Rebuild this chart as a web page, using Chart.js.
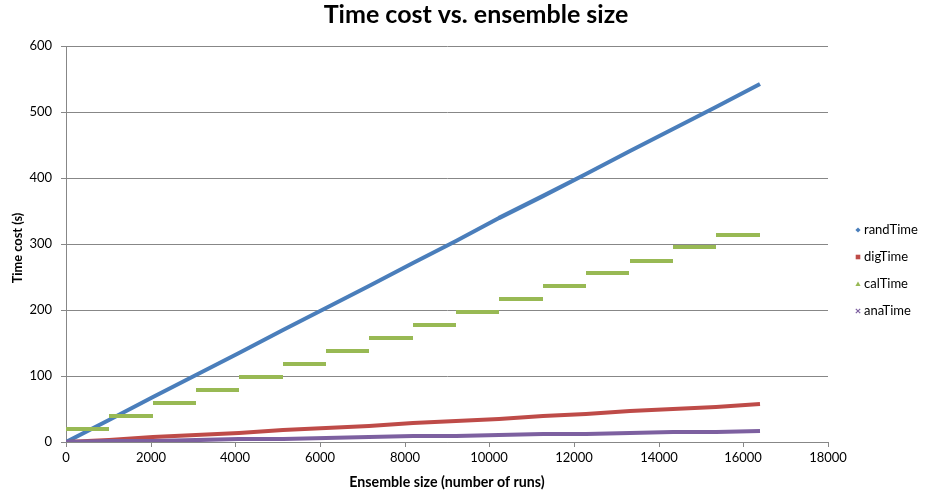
<!DOCTYPE html>
<html>
<head>
<meta charset="utf-8">
<script src="https://cdn.jsdelivr.net/npm/chart.js@4/dist/chart.umd.min.js"></script>
<style>
  html, body { margin: 0; padding: 0; background: #ffffff; }
  #wrap { width: 947px; height: 495px; }
</style>
</head>
<body>
<div id="wrap"><canvas id="c" width="947" height="495"></canvas></div>
<script>
// Ensemble sizes (number of runs) sampled every 1024 runs
const ensembleSizes = [0, 1024, 2048, 3072, 4096, 5120, 6144, 7168, 8192,
  9216, 10240, 11264, 12288, 13312, 14336, 15360, 16384];

// Time cost in seconds for each ensemble size
const randTime = [0, 33.9, 67.8, 101.6, 135.5, 169.4, 203.3, 237.1, 271, 304.9, 338.8, 372.6, 406.5, 440.4, 474.3, 508.1, 542];
const digTime  = [0, 3.6, 7.1, 10.7, 14.2, 17.8, 21.4, 24.9, 28.5, 32, 35.6, 39.2, 42.7, 46.3, 49.8, 53.4, 57];
const anaTime  = [0, 1.1, 2.1, 3.2, 4.3, 5.3, 6.4, 7.4, 8.5, 9.6, 10.6, 11.7, 12.8, 13.8, 14.9, 15.9, 17];

// calTime grows in blocks of 1024 runs: one level per block
const calBlockStart = [0, 1024, 2048, 3072, 4096, 5120, 6144, 7168, 8192,
  9216, 10240, 11264, 12288, 13312, 14336, 15360];
const calBlockEnd = [1023, 2047, 3071, 4095, 5119, 6143, 7167, 8191, 9215,
  10239, 11263, 12287, 13311, 14335, 15359, 16383];
const calTime = [20, 39, 59, 79, 98, 118, 138, 157, 177, 197, 216, 236, 256, 275, 295, 314];

const xTicks = [0, 2000, 4000, 6000, 8000, 10000, 12000, 14000, 16000, 18000];
const yTicks = [0, 100, 200, 300, 400, 500, 600];

const seriesNames = ['randTime', 'digTime', 'calTime', 'anaTime'];
const seriesColors = ['#4A7EBB', '#BE4B48', '#98B954', '#7D60A0'];
const markerShapes = ['diamond', 'square', 'triangle', 'cross'];

const chartTitle = 'Time cost vs. ensemble size';
const xTitle = 'Ensemble size (number of runs)';
const yTitle = 'Time cost (s)';

const FONT = 'Lato, "Open Sans", "Liberation Sans", sans-serif';
const GRID = '#878787';

const pts = (xs, ys) => xs.map((x, i) => ({ x: x, y: ys[i] }));

// Flat segments for each calTime block, separated by gaps
const calPoints = [];
calBlockStart.forEach((s, i) => {
  calPoints.push({ x: s, y: calTime[i] });
  calPoints.push({ x: calBlockEnd[i], y: calTime[i] });
  calPoints.push({ x: calBlockEnd[i] + 0.5, y: null });
});

const lineSet = (idx, data, order) => ({
  label: seriesNames[idx],
  data: data,
  showLine: true,
  borderColor: seriesColors[idx],
  backgroundColor: seriesColors[idx],
  borderWidth: 4.2,
  borderCapStyle: 'butt',
  borderJoinStyle: 'round',
  pointRadius: 0,
  pointHoverRadius: 0,
  spanGaps: false,
  order: order
});

// Titles and the legend at the right of the plot
const decorations = {
  id: 'decorations',
  afterDraw(chart) {
    const ctx = chart.ctx;
    const area = chart.chartArea;
    ctx.save();
    ctx.fillStyle = '#000000';
    ctx.textAlign = 'center';
    ctx.textBaseline = 'middle';

    ctx.font = 'bold 25px ' + FONT;
    ctx.fillText(chartTitle, 476, 15);

    ctx.font = 'bold 14.2px ' + FONT;
    ctx.fillText(xTitle, (area.left + area.right) / 2, 482);

    ctx.save();
    ctx.font = 'bold 12.8px ' + FONT;
    ctx.translate(18, (area.top + area.bottom) / 2 + 4);
    ctx.rotate(-Math.PI / 2);
    ctx.fillText(yTitle, 0, 0);
    ctx.restore();

    const x0 = 858, y0 = 230, step = 27;
    ctx.font = '13px ' + FONT;
    ctx.textAlign = 'left';
    seriesNames.forEach((name, i) => {
      const y = y0 + i * step;
      const col = seriesColors[i];
      ctx.fillStyle = col;
      ctx.strokeStyle = col;
      ctx.lineWidth = 1.2;
      const s = markerShapes[i];
      ctx.beginPath();
      if (s === 'diamond') {
        ctx.moveTo(x0, y - 2.6); ctx.lineTo(x0 + 2.6, y); ctx.lineTo(x0, y + 2.6); ctx.lineTo(x0 - 2.6, y);
        ctx.closePath(); ctx.fill();
      } else if (s === 'square') {
        ctx.rect(x0 - 2.3, y - 2.3, 4.6, 4.6); ctx.fill();
      } else if (s === 'triangle') {
        ctx.moveTo(x0, y - 2.6); ctx.lineTo(x0 + 2.6, y + 2); ctx.lineTo(x0 - 2.6, y + 2);
        ctx.closePath(); ctx.fill();
      } else {
        ctx.moveTo(x0 - 2.2, y - 2.2); ctx.lineTo(x0 + 2.2, y + 2.2);
        ctx.moveTo(x0 + 2.2, y - 2.2); ctx.lineTo(x0 - 2.2, y + 2.2);
        ctx.stroke();
      }
      ctx.fillStyle = '#000000';
      ctx.fillText(name, x0 + 6, y);
    });
    ctx.restore();
  }
};

new Chart(document.getElementById('c'), {
  type: 'scatter',
  data: {
    datasets: [
      lineSet(0, pts(ensembleSizes, randTime), 4),
      lineSet(1, pts(ensembleSizes, digTime), 3),
      lineSet(2, calPoints, 2),
      lineSet(3, pts(ensembleSizes, anaTime), 1)
    ]
  },
  options: {
    responsive: false,
    animation: false,
    events: [],
    layout: { padding: { left: 0, right: 119, top: 46, bottom: 0 } },
    plugins: {
      legend: { display: false },
      tooltip: { enabled: false },
      title: { display: false }
    },
    scales: {
      x: {
        type: 'linear',
        min: 0,
        max: 18000,
        alignToPixels: true,
        afterFit(s) { s.height = 53; },
        afterBuildTicks(s) { s.ticks = xTicks.map(v => ({ value: v })); },
        ticks: {
          color: '#000000',
          font: { family: FONT, size: 13 },
          padding: 3,
          maxRotation: 0,
          callback: v => String(v)
        },
        grid: {
          drawOnChartArea: false,
          drawTicks: true,
          tickLength: 5,
          color: GRID,
          lineWidth: 1
        },
        border: { display: true, color: GRID, width: 1 }
      },
      y: {
        type: 'linear',
        min: 0,
        max: 600,
        alignToPixels: true,
        afterFit(s) { s.width = 66; },
        afterBuildTicks(s) { s.ticks = yTicks.map(v => ({ value: v })); },
        ticks: {
          color: '#000000',
          font: { family: FONT, size: 13 },
          padding: 9,
          callback: v => String(v)
        },
        grid: {
          drawOnChartArea: true,
          drawTicks: true,
          tickLength: 5,
          color: GRID,
          lineWidth: 1
        },
        border: { display: true, color: GRID, width: 1 }
      }
    }
  },
  plugins: [decorations]
});
</script>
</body>
</html>
